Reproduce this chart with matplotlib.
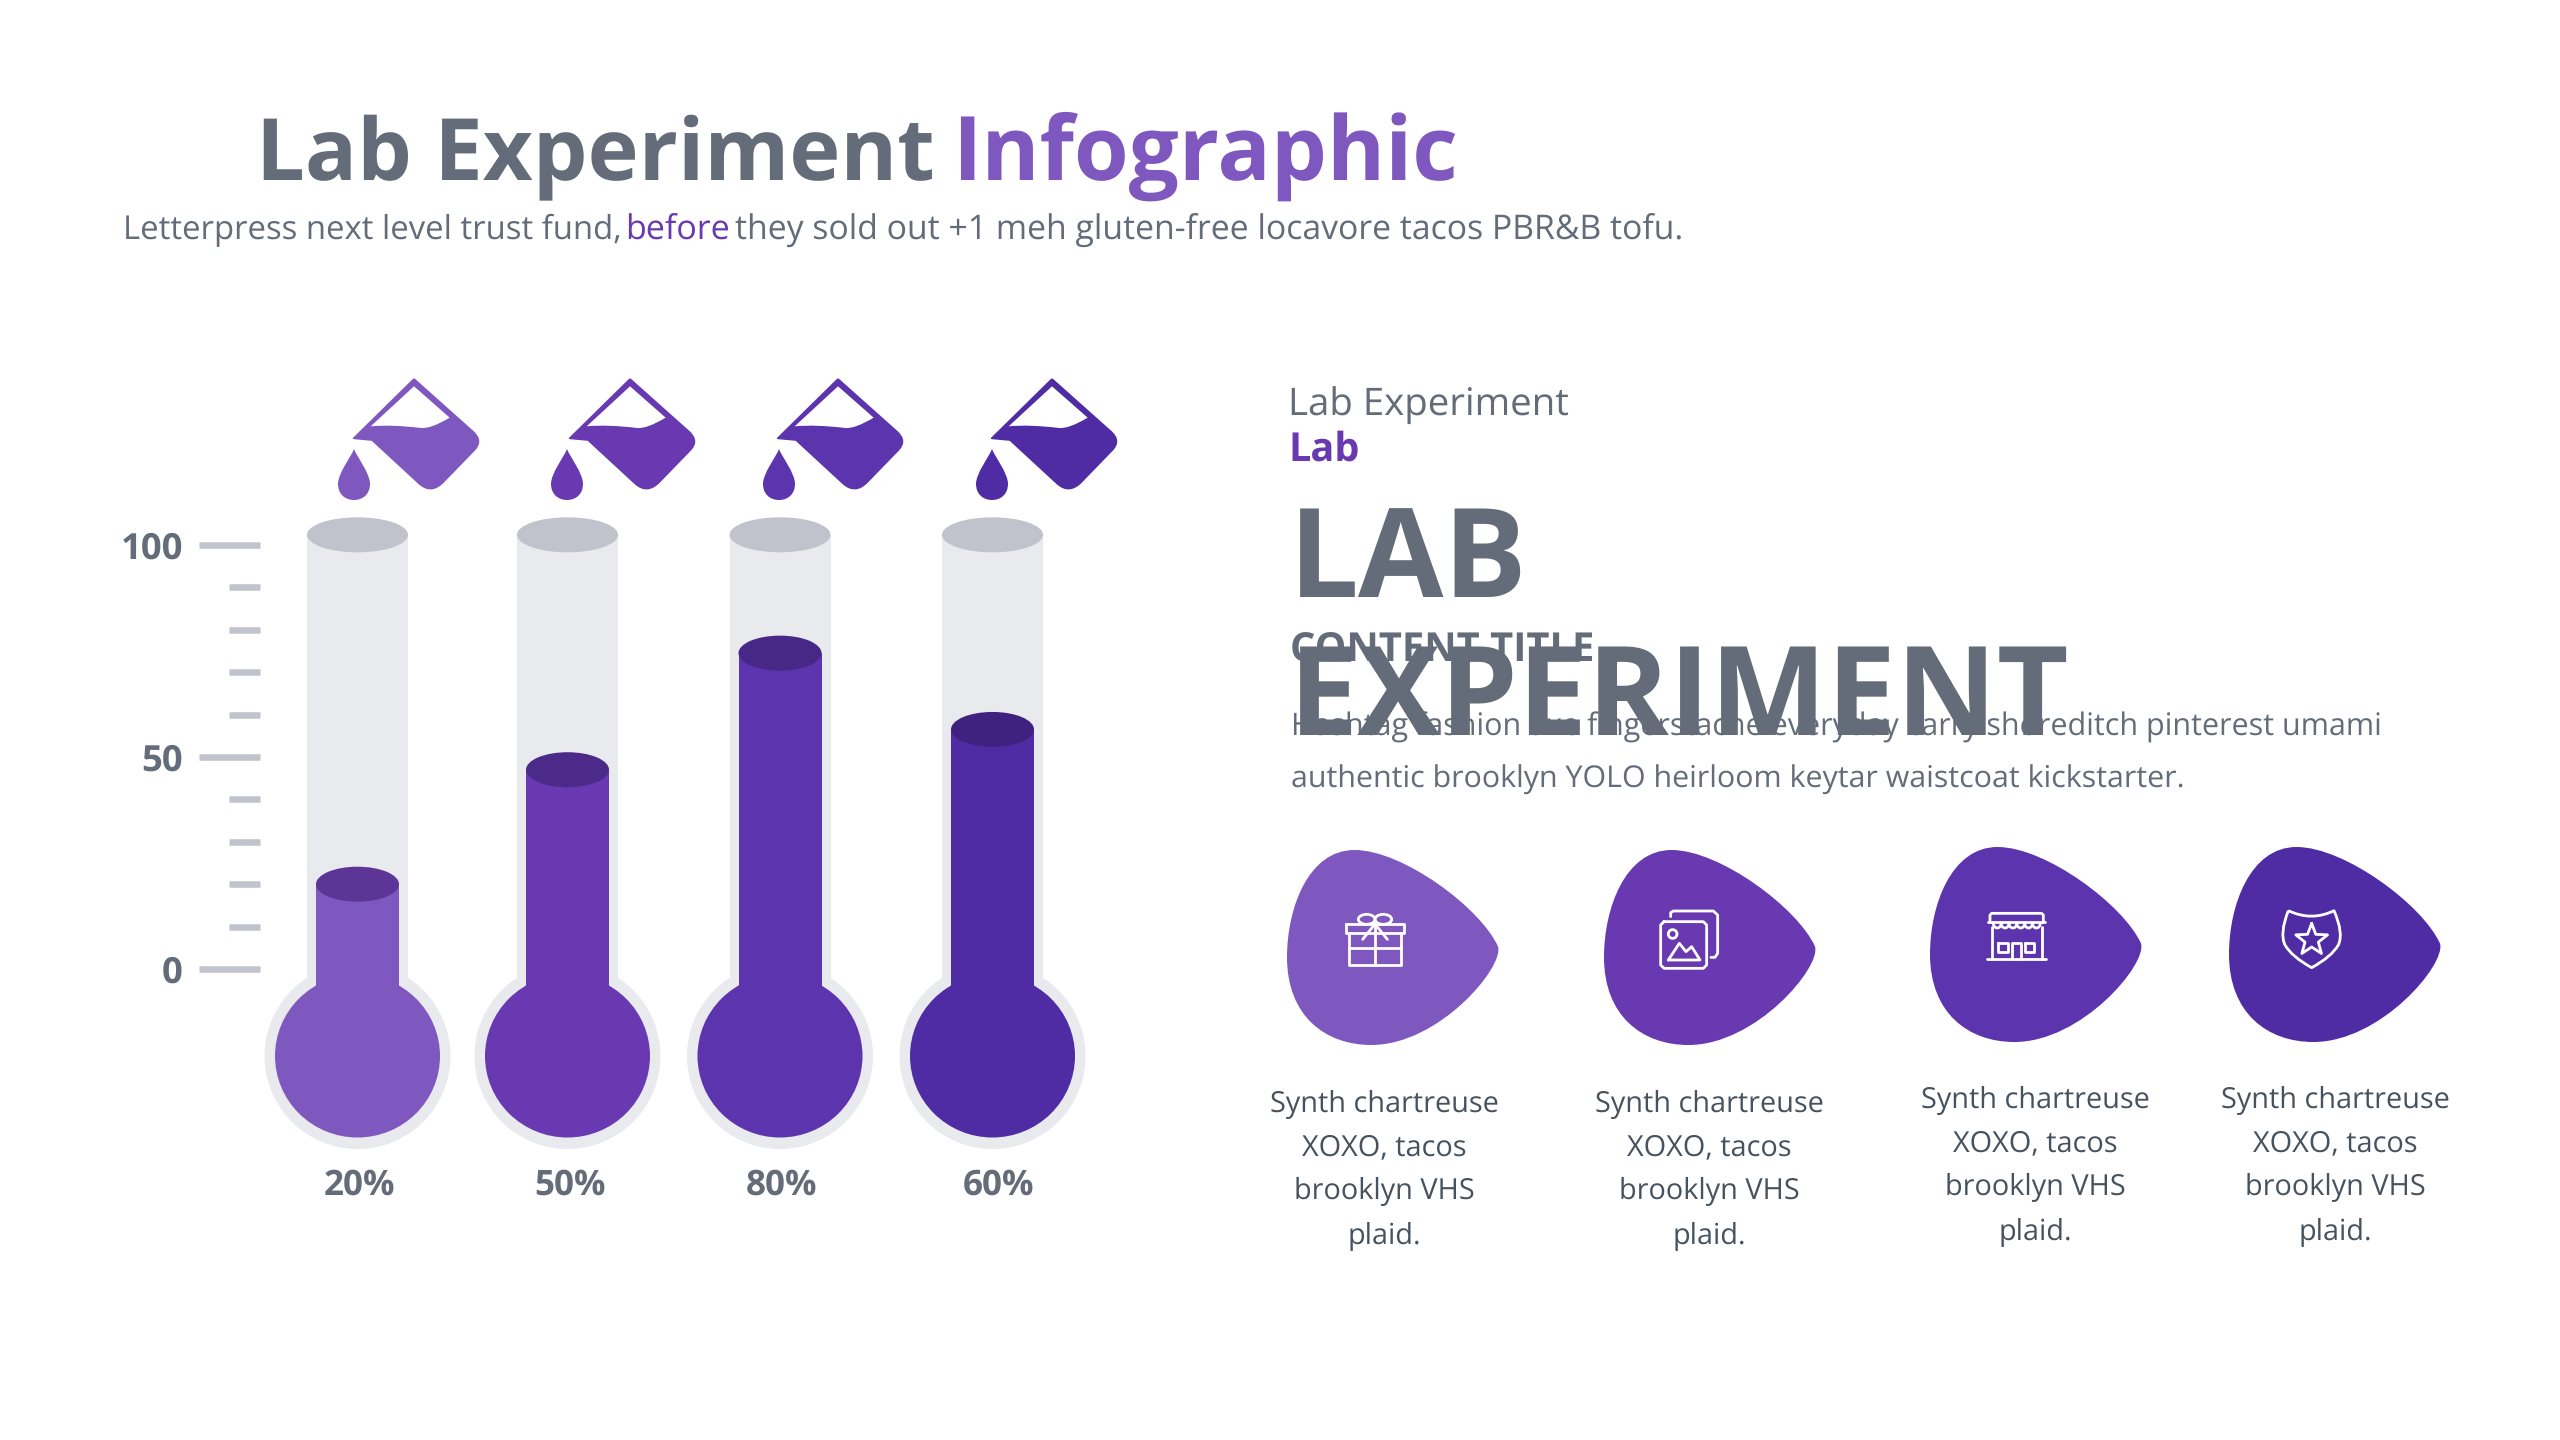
import numpy as np
import matplotlib
matplotlib.use("Agg")
import matplotlib.pyplot as plt
from matplotlib.font_manager import FontProperties
from matplotlib.patches import Ellipse, PathPatch
from matplotlib.path import Path
from matplotlib.textpath import TextPath

W, H = 2560, 1440
DPI = 200
FONT = "Open Sans"
plt.rcParams["text.hinting"] = "none"

GRAY = "#636C78"
CAPTION = "#47525F"
TUBE = "#E9EAED"
CAP = "#C0C3CC"

# data
fill_levels = [20, 47, 74.5, 56.5]
percent_labels = ["20%", "50%", "80%", "60%"]
axis_major = [0, 50, 100]
axis_minor = [10, 20, 30, 40, 60, 70, 80, 90]
tube_top = 102.4

purples = ["#7F58BF", "#6839B0", "#5C34AD", "#4F2CA3"]
fill_tops = ["#5C3596", "#4B2A8A", "#472886", "#3F2180"]

caption_lines = ["Synth chartreuse", "XOXO, tacos", "brooklyn VHS", "plaid."]

# layout, in pixels of the 2560x1440 picture
tube_x = [357.5, 567.5, 780, 992.5]
label_x = [359, 570, 782, 999]
zero_y = 969
px_per_unit = 4.24
bulb_y = 1056

beaker_apex = [(414, 379), (630, 379), (838, 379), (1052, 379)]
drop_tip = [(354, 449), (567, 449), (779, 449), (992, 449)]
blob_box = [(1287, 850), (1604, 850), (1930, 847), (2229, 847)]
blob_size = (211, 195)
caption_x = [1384, 1709, 2035, 2335]
caption_y = [1104, 1100]


def fit(text, width_px, weight="normal"):
    # font size in points that makes `text` width_px wide
    prop = FontProperties(family=FONT, weight=weight)
    ink = TextPath((0, 0), text, size=100, prop=prop).get_extents().width
    return 100 * width_px / ink * 72 / DPI


def put(ax, x0, x1, baseline, text, color=GRAY, weight="normal"):
    ax.text(x0, baseline, text, color=color, family=FONT, weight=weight,
            fontsize=fit(text, x1 - x0, weight), ha="left", va="baseline")


def draw_blob(ax, box, color):
    verts = [(.32, 0), (.55, 0), (.92, .30), (1, .495),
             (1.03, .60), (.72, 1), (.40, 1),
             (.18, 1), (0, .85), (0, .55),
             (0, .30), (.10, 0), (.32, 0)]
    codes = [Path.MOVETO] + [Path.CURVE4] * 12
    pts = np.array(verts) * blob_size + box
    ax.add_patch(PathPatch(Path(pts, codes), fc=color, ec="none"))


def draw_beaker(ax, apex, color):
    outer = [(0, 0), (-181, 178), (-126, 183), (17, 315), (52, 345), (87, 310),
             (182, 212), (207, 185), (177, 158), (0, 0)]
    codes = [Path.MOVETO, Path.LINETO, Path.LINETO, Path.LINETO, Path.CURVE3, Path.CURVE3,
             Path.LINETO, Path.CURVE3, Path.CURVE3, Path.LINETO]
    verts = np.array(outer) / 3 + apex
    ax.add_patch(PathPatch(Path(verts, codes), fc=color, ec=color, lw=0.6, joinstyle="round"))
    # empty part of the beaker, the lower edge is the wavy liquid surface
    inner = [(0, 22), (-130, 142), (-70, 136), (22, 147), (50, 150), (107, 116), (0, 22)]
    inner_codes = [Path.MOVETO, Path.LINETO, Path.CURVE3, Path.CURVE3, Path.CURVE3, Path.CURVE3, Path.CLOSEPOLY]
    ax.add_patch(PathPatch(Path(np.array(inner) / 3 + apex, inner_codes), fc="white", ec="none"))


def draw_drop(ax, tip, color):
    x, y = tip
    verts = [(x, y), (x - 3, y + 8), (x - 16, y + 24), (x - 16, y + 35),
             (x - 16, y + 45), (x - 9, y + 51), (x, y + 51),
             (x + 9, y + 51), (x + 16, y + 45), (x + 16, y + 35),
             (x + 16, y + 24), (x + 3, y + 8), (x, y)]
    codes = [Path.MOVETO] + [Path.CURVE4] * 12
    ax.add_patch(PathPatch(Path(verts, codes), fc=color, ec="none"))


ICON_LW = 1.0


def icon_line(ax, origin, pts, closed=False):
    pts = np.array(pts, dtype=float) / 3 + origin
    if closed:
        pts = np.vstack([pts, pts[:1]])
    ax.plot(pts[:, 0], pts[:, 1], color="white", lw=ICON_LW, solid_joinstyle="round", solid_capstyle="round")


def icon_ellipse(ax, origin, c, w, h):
    c = np.array(c) / 3 + origin
    ax.add_patch(Ellipse(c, w / 3, h / 3, fc="none", ec="white", lw=ICON_LW))


def draw_gift(ax, o):
    icon_line(ax, o, [(48, 72), (222, 72), (222, 98), (48, 98)], closed=True)
    icon_line(ax, o, [(58, 98), (58, 195), (212, 195), (212, 98)])
    icon_line(ax, o, [(135, 72), (135, 195)])
    icon_line(ax, o, [(58, 145), (212, 145)])
    icon_ellipse(ax, o, (110, 58), 50, 30)
    icon_ellipse(ax, o, (160, 58), 50, 30)
    icon_line(ax, o, [(98, 118), (135, 72), (172, 118)])


def draw_pictures(ax, o):
    icon_line(ax, o, [(62, 50), (62, 38), (70, 33), (190, 33), (203, 45), (203, 160), (195, 172), (183, 172)])
    icon_line(ax, o, [(42, 65), (160, 65), (170, 75), (170, 195), (160, 205), (42, 205), (32, 195), (32, 75)],
              closed=True)
    icon_ellipse(ax, o, (68, 102), 26, 26)
    icon_line(ax, o, [(55, 180), (88, 130), (108, 155), (125, 140), (150, 180)], closed=True)


def draw_store(ax, o):
    icon_line(ax, o, [(60, 65), (60, 45), (65, 40), (215, 40), (220, 45), (220, 65)])
    icon_line(ax, o, [(55, 65), (225, 65)])
    for i in range(6):
        x = 70 + i * 23.5
        t = np.linspace(0, np.pi, 12)
        arc = np.column_stack([x + 11.7 - 11.7 * np.cos(t), 70 + 14 * np.sin(t)])
        icon_line(ax, o, arc)
    icon_line(ax, o, [(65, 80), (65, 178)])
    icon_line(ax, o, [(215, 80), (215, 178)])
    icon_line(ax, o, [(50, 178), (228, 178)])
    icon_line(ax, o, [(85, 128), (115, 128), (115, 155), (85, 155)], closed=True)
    icon_line(ax, o, [(165, 128), (193, 128), (193, 155), (165, 155)], closed=True)
    icon_line(ax, o, [(125, 178), (125, 128), (152, 128), (152, 178)])


def draw_shield(ax, o):
    verts = [(55, 32), (125, 65), (192, 32), (222, 100), (205, 135), (185, 170), (125, 203),
             (65, 170), (45, 135), (28, 100), (55, 32)]
    codes = [Path.MOVETO] + [Path.CURVE3] * 10
    verts = np.array(verts) / 3 + o
    ax.add_patch(PathPatch(Path(verts, codes), fc="none", ec="white", lw=ICON_LW, joinstyle="round"))
    a = -np.pi / 2 + np.arange(10) * np.pi / 5
    r = np.where(np.arange(10) % 2 == 0, 50, 21)
    icon_line(ax, o, np.column_stack([125 + r * np.cos(a), 120 + r * np.sin(a)]), closed=True)


fig = plt.figure(figsize=(W / DPI, H / DPI), dpi=DPI, facecolor="white")

# page axes in picture pixels, for the text and the decoration
page = fig.add_axes([0, 0, 1, 1])
page.set_xlim(0, W)
page.set_ylim(H, 0)
page.axis("off")

put(page, 256, 924, 180, "Lab Experiment", weight="bold")
put(page, 952, 1447, 180, "Infographic", color=purples[0], weight="bold")
put(page, 123, 616, 239, "Letterpress next level trust fund,")
put(page, 625, 725, 239, "before", color=purples[1])
put(page, 735, 1680, 239, "they sold out +1 meh gluten-free locavore tacos PBR&B tofu.")

put(page, 1288, 1564, 415, "Lab Experiment")
put(page, 1288, 1354, 461, "Lab", color=purples[1], weight="bold")
put(page, 1290, 1590, 661, "CONTENT TITLE", weight="bold")
put(page, 1291, 2378, 736, "Hashtag fashion axe fingerstache everyday carry shoreditch pinterest umami")
put(page, 1291, 2183, 788, "authentic brooklyn YOLO heirloom keytar waistcoat kickstarter.")
put(page, 1289, 1510, 597, "LAB", weight="bold")
put(page, 1289, 2056, 735, "EXPERIMENT", weight="bold")

for i in range(4):
    draw_beaker(page, beaker_apex[i], purples[i])
    draw_drop(page, drop_tip[i], purples[i])
    draw_blob(page, blob_box[i], purples[i])

draw_gift(page, (1330, 900))
draw_pictures(page, (1650, 900))
draw_store(page, (1970, 900))
draw_shield(page, (2270, 900))

caption_size = fit(caption_lines[0], 226)
for i in range(4):
    y0 = caption_y[0] if i < 2 else caption_y[1]
    for k, line in enumerate(caption_lines):
        page.text(caption_x[i], y0 + k * 43.7, line, color=CAPTION, family=FONT, fontsize=caption_size,
                  ha="center", va="center")

# thermometer chart: x is in picture pixels, y is the 0-100 scale
left, right, top, bottom = 259.5, 1160, 500, 1150
chart = fig.add_axes([left / W, 1 - bottom / H, (right - left) / W, (bottom - top) / H])
chart.set_xlim(left, right)
chart.set_ylim((zero_y - bottom) / px_per_unit, (zero_y - top) / px_per_unit)
chart.patch.set_visible(False)
for side in chart.spines.values():
    side.set_visible(False)

base = (zero_y - bulb_y) / px_per_unit
chart.bar(tube_x, np.array([tube_top] * 4) - base, bottom=base, width=101, color=TUBE, zorder=1)
chart.bar(tube_x, np.array(fill_levels) - base, bottom=base, width=83, color=purples, zorder=4)

for i in range(4):
    chart.add_patch(Ellipse((tube_x[i], base), 186, 186 / px_per_unit, fc=TUBE, ec="none", zorder=1))
    chart.add_patch(Ellipse((tube_x[i], base), 165, 163 / px_per_unit, fc=purples[i], ec="none", zorder=3))
    chart.add_patch(Ellipse((tube_x[i], tube_top), 101, 35 / px_per_unit, fc=CAP, ec="none", zorder=2))
    chart.add_patch(Ellipse((tube_x[i], fill_levels[i]), 83, 35 / px_per_unit, fc=fill_tops[i], ec="none", zorder=5))

chart.set_yticks(axis_major, [str(v) for v in axis_major], family=FONT, weight="bold",
                 fontsize=fit("100", 59, "bold"), color=GRAY)
chart.set_yticks(axis_minor, minor=True)
chart.tick_params(axis="y", which="major", length=61.5 * 72 / DPI, width=6.5 * 72 / DPI, color=CAP,
                  pad=15 * 72 / DPI)
chart.tick_params(axis="y", which="minor", length=31.5 * 72 / DPI, width=6.5 * 72 / DPI, color=CAP)
chart.set_xticks(label_x, percent_labels, family=FONT, weight="bold",
                 fontsize=fit("20%", 69, "bold"), color=GRAY)
chart.tick_params(axis="x", length=0, pad=18 * 72 / DPI)

fig.savefig("out.png", dpi=DPI, facecolor="white")
